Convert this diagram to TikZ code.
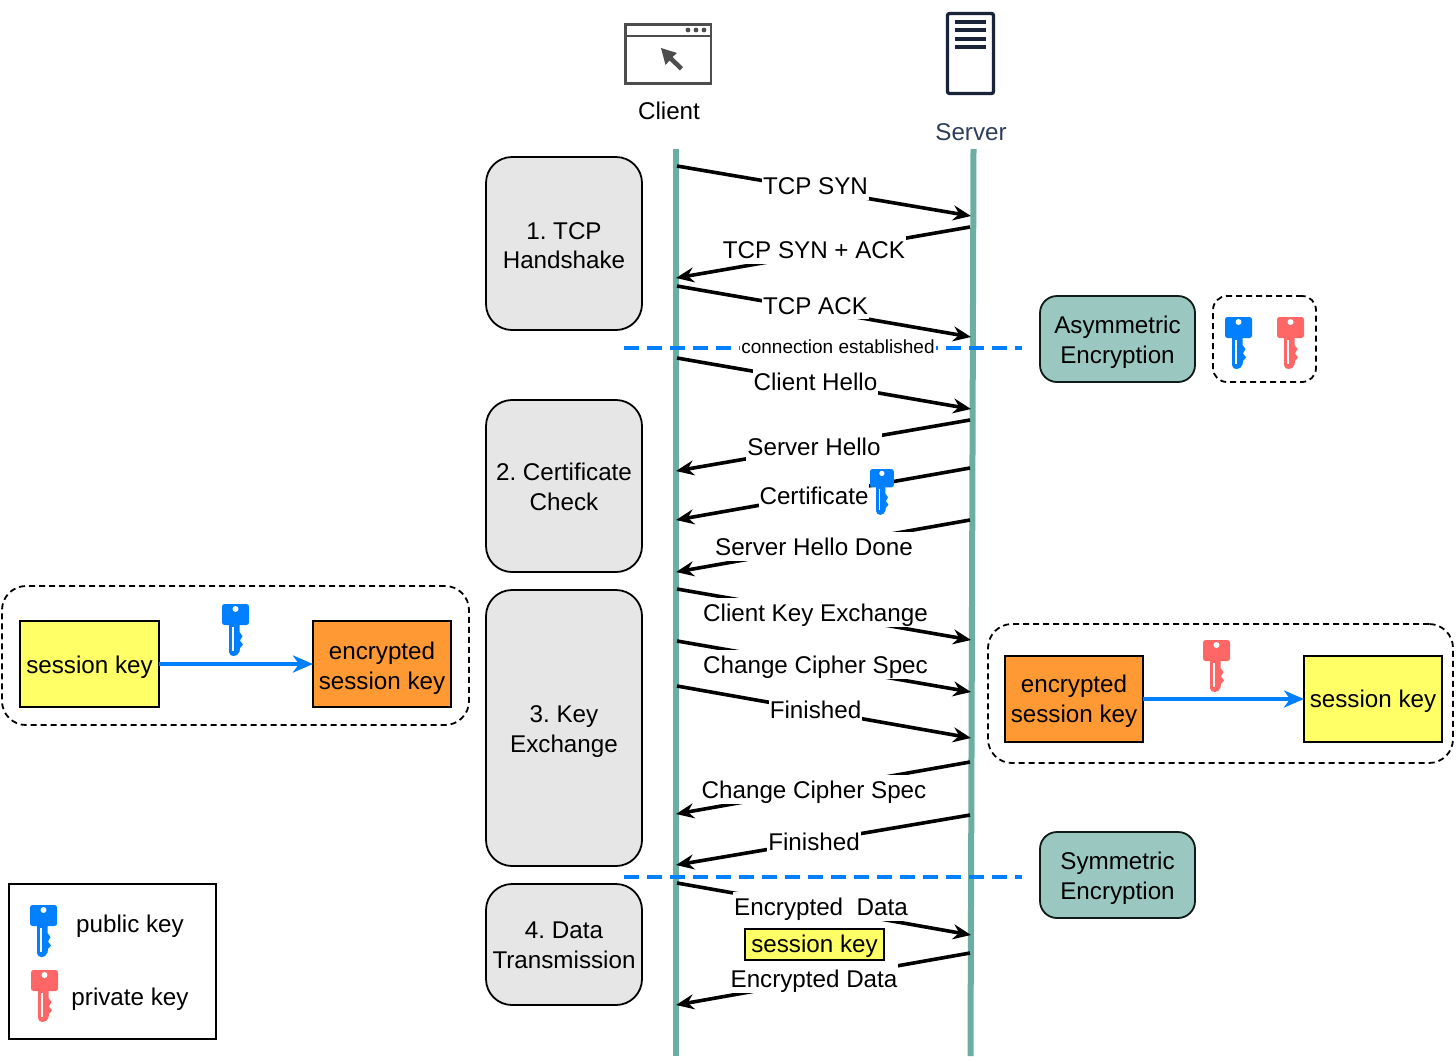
\documentclass[tikz,border=0pt]{standalone}
\usepackage{fontspec}
\setmainfont{Liberation Sans}
\usetikzlibrary{arrows.meta}
\definecolor{teal1}{HTML}{6BAEA2}
\definecolor{keyblue}{HTML}{007FFF}
\definecolor{keyred}{HTML}{FF6666}
\definecolor{greenbox}{HTML}{9AC7BF}
\definecolor{greybox}{HTML}{E6E6E6}
\definecolor{yellowbox}{HTML}{FFFF66}
\definecolor{orangebox}{HTML}{FF9933}
\definecolor{navy}{HTML}{1A2438}
\definecolor{servertxt}{HTML}{2E3F5C}
\definecolor{icongrey}{HTML}{4D4D4D}
\tikzset{
  base/.style={font=\fontsize{24.2}{29.6}\selectfont\frenchspacing,align=center,inner sep=0pt},
  phase/.style={draw=black,line width=1.8pt,fill=greybox,rounded corners=26pt,anchor=north west,outer sep=0pt,inner sep=0pt},
  algo/.style={draw=black!85!teal1,line width=1.8pt,fill=greenbox,rounded corners=17pt,anchor=north west,outer sep=0pt,inner sep=0pt},
  group/.style={draw=black,line width=1.8pt,dash pattern=on 6pt off 4pt,rounded corners=24pt,anchor=north west,inner sep=0pt,outer sep=0pt},
  keybox/.style={draw=black,line width=1.6pt,anchor=north west,outer sep=0pt,inner sep=0pt},
  lifeline/.style={line width=6pt,draw=teal1},
  msg/.style={line width=3.6pt,draw=black,-{Stealth[length=18pt,width=15pt,inset=6pt]}},
  lbl/.style={base,fill=white,minimum height=29pt,inner xsep=1pt,text height=21pt,text depth=2pt},
  sep/.style={line width=3.2pt,draw=keyblue,dash pattern=on 15pt off 8pt},
  conv/.style={line width=3.6pt,draw=keyblue,-{Stealth[length=20pt,width=17pt,inset=6pt]}},
  plain/.style={base},
  keyicon/.pic={
    \fill[#1,rounded corners=2.5pt] (0,0) rectangle (27,21);
    \fill[#1] (7,19) -- (7,48) .. controls (7,53.5) and (16,53.5) .. (17.5,47.5)
      -- (18,44) -- (21,40.5) -- (18,36.5) -- (20.5,32) -- (17.5,28) -- (17.5,19) -- cycle;
    \fill[white] (13.5,5) circle (3pt);
    \fill[white] (9.8,23) rectangle (11.8,46.5);
  }
}
\begin{document}
\begin{tikzpicture}[x=1pt,y=-1pt]
\useasboundingbox[fill=white] (0,0) rectangle (1456,1061);

% lifelines
\coordinate (ctop) at (676,149);
\coordinate (cbot) at (676,1056);
\coordinate (stop) at (973.5,149);
\coordinate (sbot) at (970.5,1056);
\draw[lifeline] (ctop) -- (cbot);
\draw[lifeline] (stop) -- (sbot);

% client icon
\draw[icongrey,line width=2.9pt] (625.5,24.5) rectangle (711,83.5);
\draw[icongrey,line width=2.9pt] (625.5,36) -- (711,36);
\fill[icongrey] (688,30) circle (2.4pt) (696,30) circle (2.4pt) (704,30) circle (2.4pt);
\fill[icongrey] (661,48) -- (677,53) -- (672.5,57) -- (683,67) -- (680,70.5) -- (669.5,60.5) -- (665.5,65) -- cycle;
\node[plain] (client) at (669,111) {Client};

% server icon
\draw[navy,line width=3.3pt,rounded corners=2pt] (947.5,13.5) rectangle (993.5,93.5);
\foreach \yy in {22,30,39,47}{\draw[navy,line width=3.2pt] (955,\yy) -- (986,\yy);}
\node[plain,text=servertxt] (server) at (971,132) {Server};

% phases
\node[phase,minimum width=156pt,minimum height=173pt,label={[base,yshift=-2pt]center:{1. TCP\\Handshake}}] (p1) at (486,157) {};
\node[phase,minimum width=156pt,minimum height=172pt,label={[base,yshift=-0.7pt]center:{2. Certificate\\Check}}] (p2) at (486,400) {};
\node[phase,minimum width=156pt,minimum height=276pt,label={[base,yshift=-3.5pt]center:{3. Key\\Exchange}}] (p3) at (486,590) {};
\node[phase,minimum width=156pt,minimum height=121pt,label={[base,yshift=-0.7pt]center:{4. Data\\Transmission}}] (p4) at (486,884) {};

% separators
\coordinate (s1a) at (624,348); \coordinate (s1b) at (1022,348);
\coordinate (s2a) at (624,877); \coordinate (s2b) at (1022,877);
\draw[sep] (s1a) -- (s1b);
\draw[sep] (s2a) -- (s2b);
\node[base,fill=white,font=\fontsize{19}{22}\selectfont,inner xsep=1pt] (conn) at (838,346.5) {connection established};

% messages
\foreach \n/\xa/\ya/\xb/\yb in {
  1/677/166/971/216, 3/677/286/971/337, 4/677/358/971/409,
  8/677/589/971/640, 9/677/641/971/692, 10/677/686/971/738, 13/677/883/971/935}{
  \coordinate (m\n a) at (\xa,\ya); \coordinate (m\n b) at (\xb,\yb);
  \draw[msg] (m\n a) -- (m\n b);
}
\foreach \n/\xa/\ya/\xb/\yb in {
  2/970/227/676/278, 5/970/420/676/471, 6/970/468/676/520, 7/970/520/676/572,
  11/970/762/676/814, 12/970/815/676/865, 14/970/953/676/1005}{
  \coordinate (m\n a) at (\xa,\ya); \coordinate (m\n b) at (\xb,\yb);
  \draw[msg] (m\n a) -- (m\n b);
}
\node[lbl] (l1) at (815.5,185) {TCP SYN};
\node[lbl] (l2) at (814,249) {TCP SYN + ACK};
\node[lbl] (l3) at (815.5,304.5) {TCP ACK};
\node[lbl] (l4) at (815.5,380.5) {Client Hello};
\node[lbl] (l5) at (814,446) {Server Hello};
\node[lbl] (l6) at (814,494.5) {Certificate};
\node[lbl] (l7) at (814,546) {Server Hello Done};
\node[lbl] (l8) at (815.5,612) {Client Key Exchange};
\node[lbl] (l9) at (815.5,664) {Change Cipher Spec};
\node[lbl] (l10) at (815.5,709) {Finished};
\node[lbl] (l11) at (814,789) {Change Cipher Spec};
\node[lbl] (l12) at (814,841) {Finished};
\node[lbl] (l13) at (821,906) {Encrypted\ \ Data};
\node[lbl] (l14) at (814,978) {Encrypted Data};
\node[keybox,fill=yellowbox,minimum width=139pt,minimum height=31pt,label={[base,yshift=-2pt]center:session key}] (skm) at (745,929) {};
\pic[scale=0.88] at (870,469) {keyicon=keyblue};

% encryption labels
\node[algo,minimum width=155pt,minimum height=86pt,label={[base,yshift=-3.5pt]center:{Asymmetric\\Encryption}}] (asym) at (1040,296) {};
\node[algo,minimum width=155pt,minimum height=86pt,label={[base,yshift=-3.5pt]center:{Symmetric\\Encryption}}] (sym) at (1040,832) {};
\node[group,rounded corners=14pt,minimum width=103pt,minimum height=86pt] (keys) at (1213,296) {};
\pic at (1225,317) {keyicon=keyblue};
\pic at (1277,317) {keyicon=keyred};

% client side encryption
\node[group,minimum width=467pt,minimum height=139pt] (gl) at (2,586) {};
\node[keybox,fill=yellowbox,minimum width=139pt,minimum height=86pt,label={[base,yshift=-3pt]center:session key}] (skl) at (20,621) {};
\node[keybox,fill=orangebox,minimum width=138pt,minimum height=86pt,label={[base,yshift=-4pt]center:{encrypted\\session key}}] (esl) at (313,621) {};
\draw[conv] (skl) -- (esl);
\pic at (222,604) {keyicon=keyblue};

% server side decryption
\node[group,minimum width=465pt,minimum height=139pt] (gr) at (988,624) {};
\node[keybox,fill=orangebox,minimum width=138pt,minimum height=86pt,label={[base,yshift=-2.5pt]center:{encrypted\\session key}}] (esr) at (1005,656) {};
\node[keybox,fill=yellowbox,minimum width=138pt,minimum height=86pt,label={[base,yshift=-2.5pt]center:session key}] (skr) at (1304,656) {};
\draw[conv] (esr) -- (skr);
\pic at (1203,640) {keyicon=keyred};

% legend
\node[draw=black,line width=2.4pt,anchor=north west,minimum width=207pt,minimum height=155pt,inner sep=0pt,outer sep=0pt] (legend) at (9,884) {};
\pic at (30,905) {keyicon=keyblue};
\pic at (31,970) {keyicon=keyred};
\node[plain] (lpub) at (130,926) {public key};
\node[plain] (lpriv) at (130,999) {private key};
\end{tikzpicture}
\end{document}
